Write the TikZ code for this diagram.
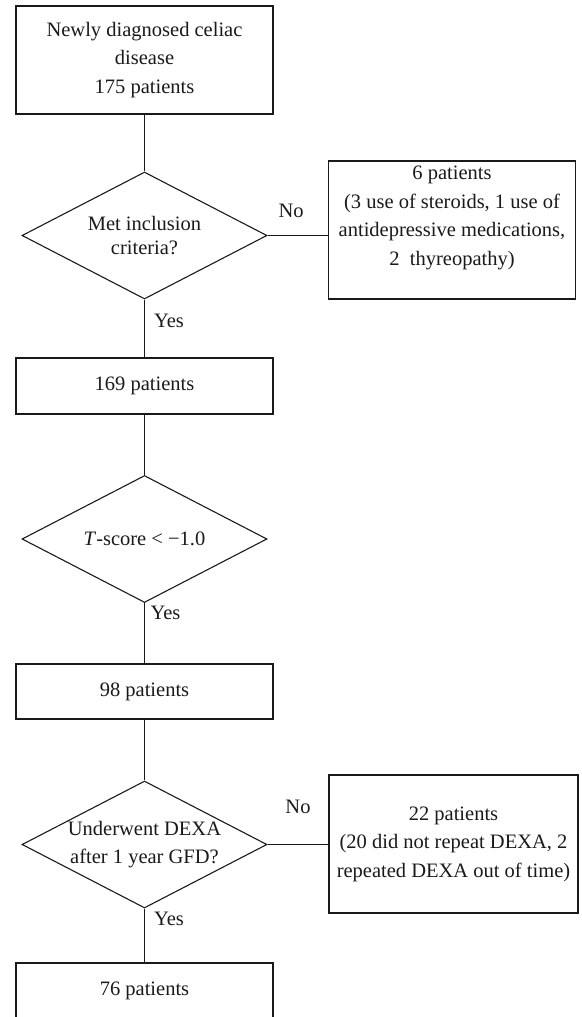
\documentclass[tikz,border=0pt]{standalone}
\usepackage{fontspec}
\setmainfont{Liberation Serif}
\usetikzlibrary{shapes.geometric}
\definecolor{ink}{HTML}{1A1A1A}
\newcommand{\flowfont}{\fontsize{20.5}{28.5}\selectfont}
\tikzset{
 every node/.append style={font=\flowfont,text=ink,align=center},
 box/.style={draw=ink,line width=1.1pt,minimum width=257pt,inner sep=3pt},
 sidebox/.style={box,minimum width=247pt,minimum height=138pt},
 decision/.style={diamond,draw=ink,line width=1.1pt,minimum width=245pt,minimum height=127pt,inner sep=0pt,shape aspect=1.93},
 link/.style={draw=ink,line width=1.1pt},
 answer/.style={inner sep=1pt},
}
\begin{document}
\begin{tikzpicture}[x=1pt,y=-1pt]

\useasboundingbox (0,0) rectangle (581,1017);
\node[box,minimum height=108pt] (start) at (144.5,60) {Newly diagnosed celiac\\disease\\175 patients};
\node[decision] (incl) at (144.5,235.5) {Met inclusion\\[-4pt]criteria?};
\node[sidebox] (excl) at (452,230) {6 patients\\(3 use of steroids, 1 use of\\antidepressive medications,\\2\ \ thyreopathy)\\ ~};
\draw[link] (start) -- (incl);
\draw[link] (incl.east) -- node[answer,pos=.39,above=16pt] {No} (incl.east -| excl.west);

\node[box,minimum height=56pt] (elig) at (144.5,386) {169 patients};
\draw[link] (incl) -- node[answer,pos=.37,right=8pt] {Yes} (elig);

\node[decision] (tscore) at (144.5,539) {\textit{T}-score < −1.0};
\node[box,minimum height=55pt] (low) at (144.5,691.5) {98 patients};
\draw[link] (elig) -- (tscore);
\draw[link] (tscore) -- node[answer,pos=.16,right=4.5pt] {Yes} (low);

\node[decision] (dexa) at (144.5,844.5) {Underwent DEXA\\after 1 year GFD?};
\node[sidebox,minimum width=249pt] (lost) at (453.5,844) {22 patients\\(20 did not repeat DEXA, 2\\repeated DEXA out of time)};
\node[box,minimum height=55pt] (final) at (144.5,990.5) {76 patients};
\draw[link] (low) -- (dexa);
\draw[link] (dexa.east) -- node[answer,pos=.5,above=29pt] {No} (dexa.east -| lost.west);
\draw[link] (dexa) -- node[answer,pos=.2,right=8pt] {Yes} (final);

\end{tikzpicture}
\end{document}
